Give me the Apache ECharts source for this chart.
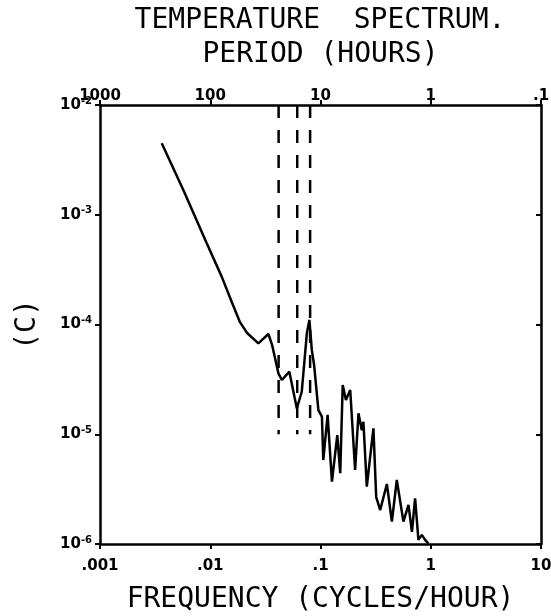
<!DOCTYPE html>
<html>
<head>
<meta charset="utf-8">
<script src="https://cdn.jsdelivr.net/npm/echarts@6/dist/echarts.min.js"></script>
<style>
  html, body { margin: 0; padding: 0; background: #fff; }
  #chart { width: 551px; height: 616px; }
</style>
</head>
<body>
<div id="chart"></div>
<script>
// frequency (cycles/hour) and spectral level
var freq = [0.00363, 0.0057, 0.00929, 0.0127, 0.0158, 0.0186, 0.0216, 0.0273, 0.0337, 0.0364,
    0.0415, 0.0446, 0.0522, 0.061, 0.0676, 0.0752, 0.0793, 0.0834, 0.0875, 0.0957,
    0.103, 0.106, 0.116, 0.127, 0.142, 0.151, 0.159, 0.17, 0.186, 0.206,
    0.221, 0.237, 0.245, 0.263, 0.302, 0.32, 0.348, 0.4, 0.444, 0.492,
    0.565, 0.628, 0.675, 0.721, 0.773, 0.83, 0.889, 0.953];
var power = [4.48e-3, 1.68e-3, 5.5e-4, 2.73e-4, 1.57e-4, 1.05e-4, 8.37e-5, 6.74e-5, 8.19e-5, 6.5e-5,
    3.59e-5, 3.12e-5, 3.72e-5, 1.72e-5, 2.44e-5, 8.32e-5, 1.1e-4, 5.86e-5, 4.28e-5, 1.66e-5,
    1.45e-5, 5.82e-6, 1.5e-5, 3.7e-6, 9.84e-6, 4.41e-6, 2.81e-5, 2.05e-5, 2.53e-5, 4.72e-6,
    1.55e-5, 1.09e-5, 1.3e-5, 3.33e-6, 1.13e-5, 2.68e-6, 2.04e-6, 3.52e-6, 1.6e-6, 3.83e-6,
    1.6e-6, 2.27e-6, 1.29e-6, 2.61e-6, 1.09e-6, 1.21e-6, 1.09e-6, 1.01e-6];

// dashed marker lines (diurnal, inertial, M2)
var markFreqs = [0.0417, 0.0615, 0.0805];
var markTop = 1e-2;
var markBottom = 1e-5;

var freqLabels = ['.001', '.01', '.1', '1', '10'];
var periodLabels = ['1000', '100', '10', '1', '.1'];
var powerExps = ['-6', '-5', '-4', '-3', '-2'];

var chart = echarts.init(document.getElementById('chart'));

var plotFont = '"DejaVu Sans Mono", monospace';
var tickFont = '"DejaVu Sans", sans-serif';

var series = [{
    type: 'line',
    data: freq.map(function (f, i) { return [f, power[i]]; }),
    symbol: 'none',
    lineStyle: { color: '#000', width: 2.5 },
    silent: true
}];
markFreqs.forEach(function (f) {
    series.push({
        type: 'line',
        data: [[f, markTop], [f, markBottom]],
        symbol: 'none',
        lineStyle: { color: '#000', width: 2.5, type: [13, 12] },
        silent: true
    });
});

var option = {
    animation: false,
    backgroundColor: '#fff',
    grid: { left: 100, right: 10, top: 105, bottom: 72, outerBoundsMode: 'none', containLabel: false },
    graphic: [{
        type: 'text',
        x: 320, y: 21,
        style: {
            text: 'TEMPERATURE  SPECTRUM.',
            font: '28px ' + plotFont,
            fill: '#000',
            align: 'center',
            verticalAlign: 'middle'
        }
    }],
    xAxis: [{
        type: 'log',
        logBase: 10,
        min: 0.001,
        max: 10,
        position: 'bottom',
        name: 'FREQUENCY (CYCLES/HOUR)',
        nameLocation: 'middle',
        nameGap: 42,
        nameTextStyle: { fontFamily: plotFont, fontSize: 28, color: '#000' },
        axisLine: { lineStyle: { color: '#000', width: 2.5 } },
        axisTick: { show: true, length: 5, lineStyle: { color: '#000', width: 2 } },
        minorTick: { show: false },
        splitLine: { show: false },
        axisLabel: {
            color: '#000', fontFamily: tickFont, fontWeight: 'bold', fontSize: 15, margin: 15,
            formatter: function (v, i) { return freqLabels[i]; }
        }
    }, {
        type: 'log',
        logBase: 10,
        min: 0.001,
        max: 10,
        position: 'top',
        name: 'PERIOD (HOURS)',
        nameLocation: 'middle',
        nameGap: 36,
        nameTextStyle: { fontFamily: plotFont, fontSize: 28, color: '#000' },
        axisLine: { lineStyle: { color: '#000', width: 2.5 } },
        axisTick: { show: true, length: 5, lineStyle: { color: '#000', width: 2 } },
        splitLine: { show: false },
        axisLabel: {
            color: '#000', fontFamily: tickFont, fontWeight: 'bold', fontSize: 15, margin: 1,
            formatter: function (v, i) { return periodLabels[i]; }
        }
    }],
    yAxis: [{
        type: 'log',
        logBase: 10,
        min: 1e-6,
        max: 1e-2,
        position: 'left',
        name: '(C)',
        nameLocation: 'middle',
        nameGap: 58,
        nameRotate: 90,
        nameTextStyle: { fontFamily: plotFont, fontSize: 28, color: '#000' },
        axisLine: { lineStyle: { color: '#000', width: 2.5 } },
        axisTick: { show: true, length: 5, lineStyle: { color: '#000', width: 2 } },
        splitLine: { show: false },
        axisLabel: {
            margin: 8,
            formatter: function (v, i) { return '{b|10}{s|' + powerExps[i] + '}'; },
            rich: {
                b: { color: '#000', fontFamily: tickFont, fontWeight: 'bold', fontSize: 15 },
                s: { color: '#000', fontFamily: tickFont, fontWeight: 'bold', fontSize: 10, verticalAlign: 'bottom', padding: [0, 0, 8, 0] }
            }
        }
    }, {
        type: 'log',
        logBase: 10,
        min: 1e-6,
        max: 1e-2,
        position: 'right',
        axisLine: { lineStyle: { color: '#000', width: 2.5 } },
        axisTick: { show: true, inside: true, length: 5, lineStyle: { color: '#000', width: 2 } },
        splitLine: { show: false },
        axisLabel: { show: false }
    }],
    series: series
};

chart.setOption(option);
</script>
</body>
</html>
